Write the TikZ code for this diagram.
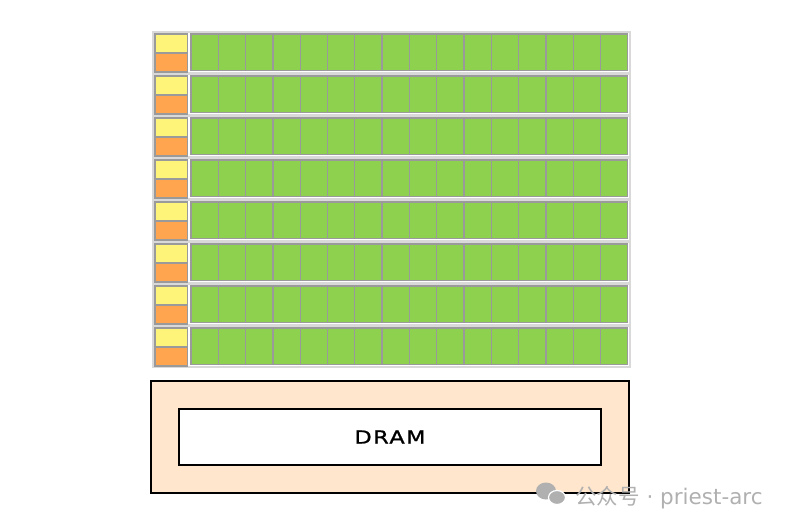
\documentclass[tikz,border=0pt]{standalone}
\usepackage{fontspec}
\newfontfamily\cjk{Noto Sans CJK SC}
\newfontfamily\latinmark{DejaVu Sans}
\newfontfamily\labelfont[FakeStretch=1.25,FakeBold=1.2,LetterSpace=8]{DejaVu Sans}
\usetikzlibrary{positioning}
\definecolor{cellgreen}{HTML}{8ED14F}
\definecolor{cellgray}{HTML}{9A9A9A}
\definecolor{tagyellow}{HTML}{FFF47A}
\definecolor{tagorange}{HTML}{FFA54F}
\definecolor{dramfill}{HTML}{FFE6CC}
\definecolor{markgray}{HTML}{B0B0B0}

\begin{document}
\begin{tikzpicture}[x=1pt,y=-1pt,
  cell/.style={draw=cellgray,line width=1.3pt,inner sep=0pt,minimum width=27.3pt,minimum height=36.7pt,fill=cellgreen},
  tagtop/.style={draw=cellgray,line width=1.3pt,inner sep=0pt,minimum width=32.7pt,minimum height=18.35pt,fill=tagyellow},
  tagbot/.style={tagtop,fill=tagorange},
  rowhalo/.style={draw=black!15,line width=2pt},
  box/.style={draw=black,line width=1.6pt,inner sep=0pt}]
\useasboundingbox (0,0) rectangle (792,528);
% register rows
\foreach \r in {0,...,7}{
  \draw[rowhalo] (153,{32+42*\r}) rectangle (629.5,{72.5+42*\r});
  \node[tagtop] (top\r) at (171.3,{43.2+42*\r}) {};
  \node[tagbot,below=0pt of top\r] (bot\r) {};
  \foreach \c in {0,...,15}
    \node[cell] (c\r-\c) at ({204.65+27.3*\c},{52.35+42*\r}) {};
}
% memory
\node[box,fill=dramfill,minimum width=478pt,minimum height=112pt] (mem) at (390,437) {};
\node[box,fill=white,minimum width=422pt,minimum height=56pt] (dram) at (mem.center)
  {\labelfont\fontsize{18}{20}\selectfont DRAM};
% watermark
\fill[markgray] (546,491) ellipse (10 and 8.5);
\fill[markgray,draw=white,line width=1.2pt] (557,497.5) ellipse (8.5 and 7);
\node[anchor=base west,inner sep=0pt,text=markgray] (mark) at (575,504.7)
  {\cjk\fontsize{21.5}{24}\selectfont 公众号\latinmark{} · priest-arc};
\end{tikzpicture}
\end{document}
